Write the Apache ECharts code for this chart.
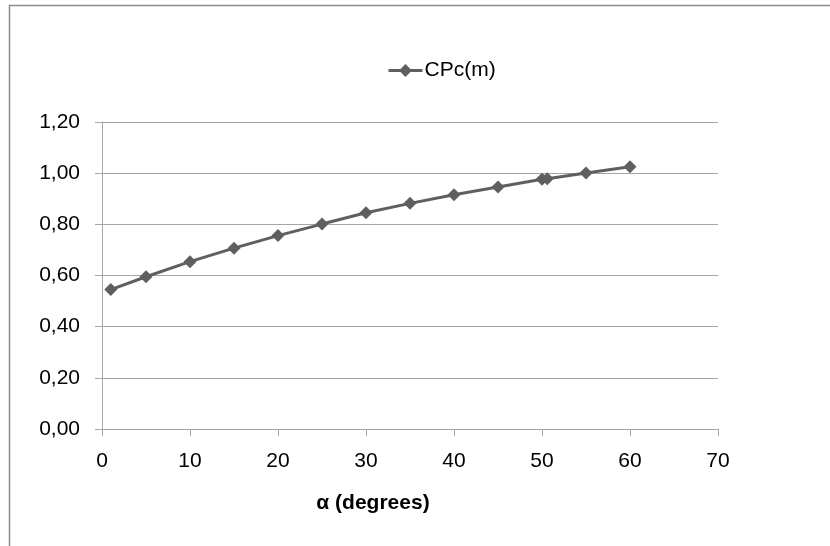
<!DOCTYPE html>
<html>
<head>
<meta charset="utf-8">
<script src="https://cdn.jsdelivr.net/npm/echarts@6/dist/echarts.min.js"></script>
<style>
  html, body { margin: 0; padding: 0; background: #fff; }
  #box { width: 830px; height: 546px; }
</style>
</head>
<body>
<div id="box"></div>
<script>
var myChart = echarts.init(document.getElementById("box"));

// angle alpha (degrees) and CPc(m)
var alphaDeg = [1, 5, 10, 15, 20, 25, 30, 35, 40, 45, 50, 50.6, 55, 60];
var cpcM = [0.545, 0.595, 0.654, 0.707, 0.756, 0.801, 0.845, 0.882, 0.916, 0.946, 0.976, 0.978, 1.001, 1.025];
var seriesName = 'CPc(m)';

var pts = [];
for (var i = 0; i < alphaDeg.length; i++) {
  pts.push([alphaDeg[i], cpcM[i]]);
}

var fontFam = "'Liberation Sans Narrow', 'Liberation Sans', sans-serif";

var option = {
  animation: false,
  textStyle: { fontFamily: fontFam },
  graphic: [{
    type: 'rect',
    shape: { x: 9.5, y: 5.5, width: 900, height: 700 },
    style: { fill: 'none', stroke: '#8c8c8c', lineWidth: 1.5 },
    silent: true
  }],
  title: {
    text: 'α (degrees)',
    left: 368,
    top: 488,
    textAlign: 'center',
    textStyle: { fontFamily: fontFam, fontSize: 21, fontWeight: 'bold', color: '#000' }
  },
  legend: {
    left: 382,
    top: 55,
    itemWidth: 34,
    itemHeight: 16,
    itemGap: 4,
    lineStyle: { width: 3 },
    textStyle: { fontFamily: fontFam, fontSize: 21, color: '#000', padding: [0, 0, 0, -3] },
    data: [seriesName]
  },
  grid: { left: 102, right: 112, top: 122, bottom: 117 },
  xAxis: {
    type: 'value',
    min: 0,
    max: 70,
    interval: 10,
    axisLine: { show: true, lineStyle: { color: '#a6a6a6', width: 1 } },
    axisTick: { show: true, length: 7, lineStyle: { color: '#a6a6a6' } },
    axisLabel: { fontSize: 21, color: '#000', margin: 22 },
    splitLine: { show: false }
  },
  yAxis: {
    type: 'value',
    min: 0,
    max: 1.2,
    interval: 0.2,
    axisLine: { show: true, lineStyle: { color: '#a6a6a6', width: 1 } },
    axisTick: { show: true, length: 7, lineStyle: { color: '#a6a6a6' } },
    axisLabel: {
      fontSize: 21, color: '#000', margin: 22,
      formatter: function (v) { return v.toFixed(2).replace('.', ','); }
    },
    splitLine: { show: true, lineStyle: { color: '#a6a6a6', width: 1 } }
  },
  series: [{
    name: seriesName,
    type: 'line',
    data: pts,
    symbol: 'diamond',
    symbolSize: 13,
    lineStyle: { color: '#5f5f5f', width: 3 },
    itemStyle: { color: '#5f5f5f' }
  }]
};
myChart.setOption(option);
</script>
</body>
</html>
